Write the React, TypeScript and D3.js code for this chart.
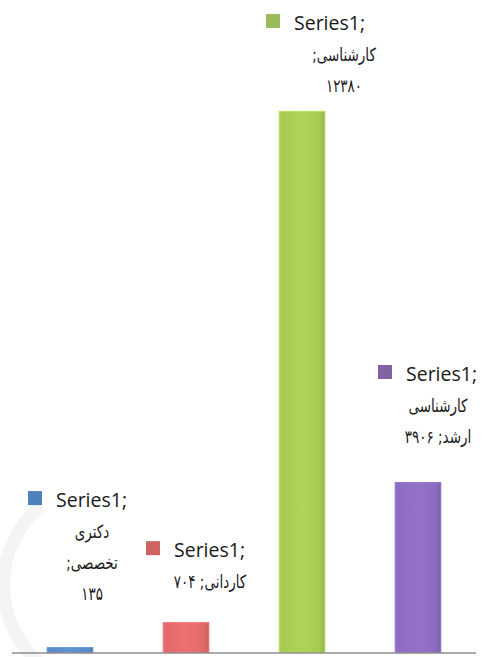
import React, { useEffect } from "react";
import * as d3 from "d3";

// categories (Persian degree levels) and their counts
const categories = ["دکتری تخصصی", "کاردانی", "کارشناسی", "کارشناسی ارشد"];
const values = [135, 704, 12380, 3906];
const seriesName = "Series1";

const barColors = ["#5a8bc6", "#e26a6a", "#a6ca52", "#8c6cc0"];
const keyColors = ["#4f81bd", "#cd6461", "#9bbb59", "#8064a2"];

// words per line when the label wraps
const labelWrap = [[1, 1, 1], [2], [1, 1], [1, 2]];
// label placement relative to bar center / bar top
const labelPos = [
    { dx: 22, dy: -140, pdx: 0 },
    { dx: 24, dy: -65, pdx: 0 },
    { dx: 28, dy: -81, pdx: 14 },
    { dx: 24, dy: -101, pdx: -4 },
];

const width = 484;
const height = 657;

const faDigits = "۰۱۲۳۴۵۶۷۸۹";
const toFa = (v: number) => String(v).replace(/\d/g, (d) => faDigits[+d]);

export default function App()
{
    useEffect(() =>
    {
        document.body.style.margin = "0";
    }, []);

    const x = d3
        .scaleBand()
        .domain(categories)
        .range([12, 476])
        .paddingInner(0.6)
        .paddingOuter(0.3);

    const y = d3.scaleLinear().domain([0, 14000]).range([653, 40]);

    const arc = d3.arc()({
        innerRadius: 95,
        outerRadius: 108,
        startAngle: -Math.PI * 0.78,
        endAngle: -Math.PI * 0.22,
    } as any);

    return (
        <svg width={width} height={height} style={{ display: "block", background: "#fff" }}>
            <defs>
                {barColors.map((c, i) =>
                {
                    const col = d3.color(c) as d3.RGBColor;
                    return (
                        <linearGradient key={i} id={"bar" + i} x1="0" x2="1" y1="0" y2="0">
                            <stop offset="0" stopColor={col.brighter(0.1).formatHex()} />
                            <stop offset="0.08" stopColor={col.formatHex()} />
                            <stop offset="0.5" stopColor={col.brighter(0.15).formatHex()} />
                            <stop offset="0.88" stopColor={col.formatHex()} />
                            <stop offset="1" stopColor={col.darker(0.35).formatHex()} />
                        </linearGradient>
                    );
                })}
            </defs>

            {/* faint watermark */}
            <path d={arc as string} transform="translate(105,585)" fill="#f4f4f4" />

            {values.map((v, i) =>
            {
                const bx = x(categories[i]) as number;
                const bw = x.bandwidth();
                return (
                    <g key={i}>
                        <rect x={bx} y={y(v)} width={bw} height={y(0) - y(v)} fill={`url(#bar${i})`} />
                        <rect
                            x={bx + 0.5}
                            y={y(v) + 0.5}
                            width={bw - 1}
                            height={Math.max(0, y(0) - y(v) - 1)}
                            fill="none"
                            stroke={(d3.color(barColors[i]) as d3.RGBColor).brighter(0.5).formatHex()}
                            strokeOpacity={0.6}
                        />
                    </g>
                );
            })}

            <line x1={12} x2={476} y1={y(0)} y2={y(0)} stroke="#8c8c8c" strokeWidth={1.5} />

            {values.map((v, i) =>
            {
                const cx = (x(categories[i]) as number) + x.bandwidth() / 2 + labelPos[i].dx;
                const by = y(v) + labelPos[i].dy;
                const tokens = `${categories[i]}; ${toFa(v)}`.split(" ");
                const lines: string[] = [];
                let k = 0;
                labelWrap[i].forEach((n) =>
                {
                    lines.push(tokens.slice(k, k + n).join(" "));
                    k += n;
                });
                return (
                    <g key={"l" + i}>
                        <rect x={cx - 64} y={by - 16} width={14} height={14} fill={keyColors[i]} />
                        <text
                            x={cx - 36}
                            y={by}
                            fontFamily="'Open Sans', 'Noto Sans', sans-serif"
                            fontSize={19.5}
                            fill="#1a1a1a"
                        >
                            {seriesName + ";"}
                        </text>
                        {lines.map((ln, j) => (
                            <text
                                key={j}
                                transform={`translate(${cx + labelPos[i].pdx},${by + 31 * (j + 1)}) scale(0.75,1)`}
                                textAnchor="middle"
                                direction="rtl"
                                fontFamily="'DejaVu Sans', sans-serif"
                                fontSize={18}
                                fill="#1a1a1a"
                            >
                                {ln}
                            </text>
                        ))}
                    </g>
                );
            })}
        </svg>
    );
}
